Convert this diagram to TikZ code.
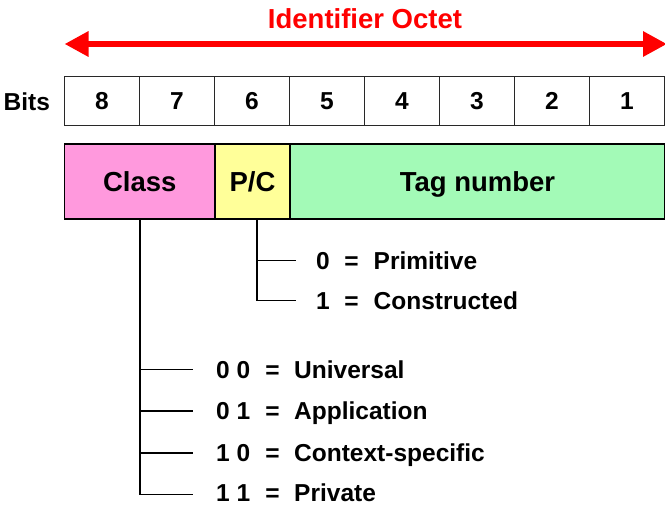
\documentclass[tikz,border=0pt]{standalone}
\usepackage{fontspec}
\setmainfont{Liberation Sans}
\usetikzlibrary{arrows.meta}

\definecolor{classpink}{RGB}{255,153,221}
\definecolor{pcyellow}{RGB}{255,255,153}
\definecolor{taggreen}{RGB}{163,250,183}
\definecolor{octetred}{RGB}{255,0,0}
\definecolor{cellgray}{RGB}{40,40,40}

\tikzset{
  bitcell/.style={draw=cellgray, line width=1.3pt, minimum width=75pt,
    minimum height=48.5pt, inner sep=0pt, text height=17.5pt, text depth=0pt,
    font=\fontsize{24.5}{28}\selectfont\bfseries},
  fieldbox/.style={draw=black, line width=1.3pt, minimum height=75pt, inner sep=0pt,
    text height=20.6pt, text depth=0pt, font=\fontsize{27.5}{31}\selectfont\bfseries},
  listtext/.style={inner sep=0pt, anchor=base west, font=\fontsize{24.5}{28}\selectfont\bfseries},
  eqtext/.style={inner sep=0pt, anchor=base, font=\fontsize{24.5}{28}\selectfont\bfseries},
  branch/.style={draw=black, line width=1.6pt},
  octet/.style={draw=octetred, line width=6pt,
    {Triangle[length=24pt,width=24pt]}-{Triangle[length=24pt,width=24pt]}}
}

\begin{document}
\begin{tikzpicture}[x=1pt, y=-1pt]
  \useasboundingbox (0,0) rectangle (665,506);

  % title and the span of the octet
  \node[text=octetred, inner sep=0pt, anchor=base, font=\fontsize{27.5}{31}\selectfont\bfseries]
    (title) at (365,28) {Identifier Octet};
  \coordinate (octL) at (64.5,44);
  \coordinate (octR) at (665,44);
  \draw[octet, shorten >=-2pt] (octL) -- (octR);

  % bit numbering
  \node[listtext] (bits) at (3.5,110) {Bits};
  \foreach \b [count=\i from 0] in {8,7,6,5,4,3,2,1}
    \node[bitcell] (b\b) at (102+75*\i,101) {\b};

  % fields of the identifier octet
  \node[fieldbox, fill=classpink, minimum width=150.5pt] (class) at (139.75,181.5) {Class};
  \node[fieldbox, fill=pcyellow, minimum width=75pt] (pc) at (252.5,181.5) {P/C};
  \node[fieldbox, fill=taggreen, minimum width=375pt] (tag) at (477.5,181.5) {Tag number};

  % P/C values
  \coordinate (pcdrop) at ([xshift=4.2pt]pc.south);
  \coordinate (pc0) at (296,260.5);
  \coordinate (pc1) at (296,300.5);
  \draw[branch] (pcdrop) |- (pc0);
  \draw[branch] (pcdrop) |- (pc1);
  \node[listtext] (pc0code) at (316,269) {0};
  \node[eqtext]   (pc0eq)   at (351.5,269) {=};
  \node[listtext] (pc0name) at (373.5,269) {Primitive};
  \node[listtext] (pc1code) at (316,309) {1};
  \node[eqtext]   (pc1eq)   at (351.5,309) {=};
  \node[listtext] (pc1name) at (373.5,309) {Constructed};

  % class values
  \coordinate (cl0) at (193,369.5);
  \coordinate (cl1) at (193,411);
  \coordinate (cl2) at (193,452.7);
  \coordinate (cl3) at (193,494.3);
  \foreach \k in {0,1,2,3}
    \draw[branch] (class.south) |- (cl\k);
  \node[listtext] (cl0code) at (216,378) {0 0};
  \node[eqtext]   (cl0eq)   at (272.5,378) {=};
  \node[listtext] (cl0name) at (294,378) {Universal};
  \node[listtext] (cl1code) at (216,419.5) {0 1};
  \node[eqtext]   (cl1eq)   at (272.5,419.5) {=};
  \node[listtext] (cl1name) at (294,419.5) {Application};
  \node[listtext] (cl2code) at (216,461.2) {1 0};
  \node[eqtext]   (cl2eq)   at (272.5,461.2) {=};
  \node[listtext] (cl2name) at (294,461.2) {Context-specific};
  \node[listtext, text depth=0pt] (cl3code) at (216,501.8) {1 1};
  \node[eqtext, text depth=0pt]   (cl3eq)   at (272.5,501.8) {=};
  \node[listtext, text depth=0pt] (cl3name) at (294,501.8) {Private};
\end{tikzpicture}
\end{document}
